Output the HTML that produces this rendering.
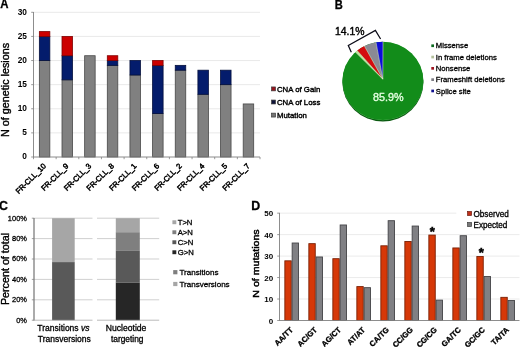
<!DOCTYPE html>
<html lang="en">
<head>
<meta charset="utf-8">
<title>Figure</title>
<style>
html,body{margin:0;padding:0;background:#fff;}
body{width:520px;height:347px;overflow:hidden;}
svg{display:block;filter:blur(0.35px);font-family:'Liberation Sans', Arial, Helvetica, sans-serif;}
text{font-family:'Liberation Sans', Arial, Helvetica, sans-serif;}
</style>
</head>
<body>
<svg width="520" height="347" viewBox="0 0 520 347">
<rect x="0" y="0" width="520" height="347" fill="#ffffff"/>
<line x1="33.50" y1="132.88" x2="260.00" y2="132.88" stroke="#e6e6e6" stroke-width="0.9" />
<line x1="33.50" y1="108.77" x2="260.00" y2="108.77" stroke="#e6e6e6" stroke-width="0.9" />
<line x1="33.50" y1="84.66" x2="260.00" y2="84.66" stroke="#e6e6e6" stroke-width="0.9" />
<line x1="33.50" y1="60.54" x2="260.00" y2="60.54" stroke="#e6e6e6" stroke-width="0.9" />
<line x1="33.50" y1="36.42" x2="260.00" y2="36.42" stroke="#e6e6e6" stroke-width="0.9" />
<line x1="33.50" y1="12.31" x2="260.00" y2="12.31" stroke="#e6e6e6" stroke-width="0.9" />
<rect x="39.35" y="60.54" width="10.50" height="96.46" fill="#808080" stroke="#484848" stroke-width="0.8" />
<rect x="39.35" y="36.42" width="10.50" height="24.12" fill="#041c6c" stroke="#04103c" stroke-width="0.8" />
<rect x="39.35" y="31.60" width="10.50" height="4.82" fill="#cc0000" stroke="#800000" stroke-width="0.8" />
<rect x="62.00" y="79.83" width="10.50" height="77.17" fill="#808080" stroke="#484848" stroke-width="0.8" />
<rect x="62.00" y="55.72" width="10.50" height="24.12" fill="#041c6c" stroke="#04103c" stroke-width="0.8" />
<rect x="62.00" y="36.42" width="10.50" height="19.29" fill="#cc0000" stroke="#800000" stroke-width="0.8" />
<rect x="84.65" y="55.72" width="10.50" height="101.28" fill="#808080" stroke="#484848" stroke-width="0.8" />
<rect x="107.30" y="65.36" width="10.50" height="91.64" fill="#808080" stroke="#484848" stroke-width="0.8" />
<rect x="107.30" y="60.54" width="10.50" height="4.82" fill="#041c6c" stroke="#04103c" stroke-width="0.8" />
<rect x="107.30" y="55.72" width="10.50" height="4.82" fill="#cc0000" stroke="#800000" stroke-width="0.8" />
<rect x="129.95" y="75.01" width="10.50" height="81.99" fill="#808080" stroke="#484848" stroke-width="0.8" />
<rect x="129.95" y="60.54" width="10.50" height="14.47" fill="#041c6c" stroke="#04103c" stroke-width="0.8" />
<rect x="152.60" y="113.59" width="10.50" height="43.41" fill="#808080" stroke="#484848" stroke-width="0.8" />
<rect x="152.60" y="65.36" width="10.50" height="48.23" fill="#041c6c" stroke="#04103c" stroke-width="0.8" />
<rect x="152.60" y="60.54" width="10.50" height="4.82" fill="#cc0000" stroke="#800000" stroke-width="0.8" />
<rect x="175.25" y="70.19" width="10.50" height="86.81" fill="#808080" stroke="#484848" stroke-width="0.8" />
<rect x="175.25" y="65.36" width="10.50" height="4.82" fill="#041c6c" stroke="#04103c" stroke-width="0.8" />
<rect x="197.90" y="94.30" width="10.50" height="62.70" fill="#808080" stroke="#484848" stroke-width="0.8" />
<rect x="197.90" y="70.19" width="10.50" height="24.12" fill="#041c6c" stroke="#04103c" stroke-width="0.8" />
<rect x="220.55" y="84.66" width="10.50" height="72.34" fill="#808080" stroke="#484848" stroke-width="0.8" />
<rect x="220.55" y="70.19" width="10.50" height="14.47" fill="#041c6c" stroke="#04103c" stroke-width="0.8" />
<rect x="243.20" y="103.95" width="10.50" height="53.05" fill="#808080" stroke="#484848" stroke-width="0.8" />
<line x1="33.50" y1="12.01" x2="33.50" y2="157.30" stroke="#808080" stroke-width="0.9" />
<line x1="33.20" y1="157.00" x2="260.00" y2="157.00" stroke="#808080" stroke-width="0.9" />
<line x1="31.20" y1="157.00" x2="33.50" y2="157.00" stroke="#808080" stroke-width="0.8" />
<text x="26.90" y="159.45" font-size="8.3" text-anchor="end" font-weight="bold" fill="#000" >0</text>
<line x1="31.20" y1="132.88" x2="33.50" y2="132.88" stroke="#808080" stroke-width="0.8" />
<text x="26.90" y="135.33" font-size="8.3" text-anchor="end" font-weight="bold" fill="#000" >5</text>
<line x1="31.20" y1="108.77" x2="33.50" y2="108.77" stroke="#808080" stroke-width="0.8" />
<text x="26.90" y="111.22" font-size="8.3" text-anchor="end" font-weight="bold" fill="#000" >10</text>
<line x1="31.20" y1="84.66" x2="33.50" y2="84.66" stroke="#808080" stroke-width="0.8" />
<text x="26.90" y="87.11" font-size="8.3" text-anchor="end" font-weight="bold" fill="#000" >15</text>
<line x1="31.20" y1="60.54" x2="33.50" y2="60.54" stroke="#808080" stroke-width="0.8" />
<text x="26.90" y="62.99" font-size="8.3" text-anchor="end" font-weight="bold" fill="#000" >20</text>
<line x1="31.20" y1="36.42" x2="33.50" y2="36.42" stroke="#808080" stroke-width="0.8" />
<text x="26.90" y="38.87" font-size="8.3" text-anchor="end" font-weight="bold" fill="#000" >25</text>
<line x1="31.20" y1="12.31" x2="33.50" y2="12.31" stroke="#808080" stroke-width="0.8" />
<text x="26.90" y="14.76" font-size="8.3" text-anchor="end" font-weight="bold" fill="#000" >30</text>
<line x1="33.50" y1="157.00" x2="33.50" y2="159.20" stroke="#808080" stroke-width="0.8" />
<line x1="56.15" y1="157.00" x2="56.15" y2="159.20" stroke="#808080" stroke-width="0.8" />
<line x1="78.80" y1="157.00" x2="78.80" y2="159.20" stroke="#808080" stroke-width="0.8" />
<line x1="101.45" y1="157.00" x2="101.45" y2="159.20" stroke="#808080" stroke-width="0.8" />
<line x1="124.10" y1="157.00" x2="124.10" y2="159.20" stroke="#808080" stroke-width="0.8" />
<line x1="146.75" y1="157.00" x2="146.75" y2="159.20" stroke="#808080" stroke-width="0.8" />
<line x1="169.40" y1="157.00" x2="169.40" y2="159.20" stroke="#808080" stroke-width="0.8" />
<line x1="192.05" y1="157.00" x2="192.05" y2="159.20" stroke="#808080" stroke-width="0.8" />
<line x1="214.70" y1="157.00" x2="214.70" y2="159.20" stroke="#808080" stroke-width="0.8" />
<line x1="237.35" y1="157.00" x2="237.35" y2="159.20" stroke="#808080" stroke-width="0.8" />
<line x1="260.00" y1="157.00" x2="260.00" y2="159.20" stroke="#808080" stroke-width="0.8" />
<text x="0" y="0" transform="translate(46.43 166.60) rotate(-45) scale(1 1)" font-size="7.6" text-anchor="end" font-weight="normal" fill="#000" stroke="#000" stroke-width="0.5">FR-CLL_10</text>
<text x="0" y="0" transform="translate(69.07 166.60) rotate(-45) scale(1 1)" font-size="7.6" text-anchor="end" font-weight="normal" fill="#000" stroke="#000" stroke-width="0.5">FR-CLL_9</text>
<text x="0" y="0" transform="translate(91.72 166.60) rotate(-45) scale(1 1)" font-size="7.6" text-anchor="end" font-weight="normal" fill="#000" stroke="#000" stroke-width="0.5">FR-CLL_3</text>
<text x="0" y="0" transform="translate(114.37 166.60) rotate(-45) scale(1 1)" font-size="7.6" text-anchor="end" font-weight="normal" fill="#000" stroke="#000" stroke-width="0.5">FR-CLL_8</text>
<text x="0" y="0" transform="translate(137.02 166.60) rotate(-45) scale(1 1)" font-size="7.6" text-anchor="end" font-weight="normal" fill="#000" stroke="#000" stroke-width="0.5">FR-CLL_1</text>
<text x="0" y="0" transform="translate(159.67 166.60) rotate(-45) scale(1 1)" font-size="7.6" text-anchor="end" font-weight="normal" fill="#000" stroke="#000" stroke-width="0.5">FR-CLL_6</text>
<text x="0" y="0" transform="translate(182.32 166.60) rotate(-45) scale(1 1)" font-size="7.6" text-anchor="end" font-weight="normal" fill="#000" stroke="#000" stroke-width="0.5">FR-CLL_2</text>
<text x="0" y="0" transform="translate(204.97 166.60) rotate(-45) scale(1 1)" font-size="7.6" text-anchor="end" font-weight="normal" fill="#000" stroke="#000" stroke-width="0.5">FR-CLL_4</text>
<text x="0" y="0" transform="translate(227.62 166.60) rotate(-45) scale(1 1)" font-size="7.6" text-anchor="end" font-weight="normal" fill="#000" stroke="#000" stroke-width="0.5">FR-CLL_5</text>
<text x="0" y="0" transform="translate(250.27 166.60) rotate(-45) scale(1 1)" font-size="7.6" text-anchor="end" font-weight="normal" fill="#000" stroke="#000" stroke-width="0.5">FR-CLL_7</text>
<text x="0" y="0" transform="translate(8.70 89.90) rotate(-90) scale(1 0.94)" font-size="10.8" text-anchor="middle" font-weight="normal" fill="#000" stroke="#000" stroke-width="0.4">N of genetic lesions</text>
<text x="0" y="0" transform="translate(0.20 8.25) rotate(0) scale(0.92 1)" font-size="12.4" text-anchor="start" font-weight="bold" fill="#000" stroke="#000" stroke-width="0.3">A</text>
<rect x="271.60" y="86.95" width="3.90" height="3.90" fill="#98141e" stroke="#3a3a3a" stroke-width="0.7" />
<text x="0" y="0" transform="translate(277.00 91.75) rotate(0) scale(0.963 1)" font-size="8.1" text-anchor="start" font-weight="normal" fill="#000" stroke="#000" stroke-width="0.4">CNA of Gain</text>
<rect x="271.60" y="100.05" width="3.90" height="3.90" fill="#10143a" stroke="#3a3a3a" stroke-width="0.7" />
<text x="0" y="0" transform="translate(277.00 104.85) rotate(0) scale(0.963 1)" font-size="8.1" text-anchor="start" font-weight="normal" fill="#000" stroke="#000" stroke-width="0.4">CNA of Loss</text>
<rect x="271.60" y="113.15" width="3.90" height="3.90" fill="#747474" stroke="#3a3a3a" stroke-width="0.7" />
<text x="0" y="0" transform="translate(277.00 117.95) rotate(0) scale(0.963 1)" font-size="8.1" text-anchor="start" font-weight="normal" fill="#000" stroke="#000" stroke-width="0.4">Mutation</text>
<text x="0" y="0" transform="translate(334.70 9.10) rotate(0) scale(0.9 1)" font-size="12.4" text-anchor="start" font-weight="bold" fill="#000" stroke="#000" stroke-width="0.3">B</text>
<ellipse cx="382.9" cy="82.39999999999999" rx="40.5" ry="39.1" fill="#0a5a10"/>
<ellipse cx="382.9" cy="81.14999999999999" rx="40.3" ry="39.1" fill="#5cc060"/>
<ellipse cx="382.9" cy="80.8" rx="40.5" ry="39.1" fill="#128c1a"/>
<path d="M382.80 79.10 L355.40 52.10 A40.5 39.1 0 0 1 357.20 50.58 Z" fill="#c4e6a0"/>
<path d="M382.80 79.10 L357.20 50.58 A40.5 39.1 0 0 1 364.40 46.02 Z" fill="#d40c10"/>
<path d="M382.80 79.10 L364.40 46.02 A40.5 39.1 0 0 1 376.00 42.27 Z" fill="#8a8a94"/>
<path d="M382.80 79.10 L376.00 42.27 A40.5 39.1 0 0 1 383.00 41.70 Z" fill="#0c0cd8"/>
<line x1="382.80" y1="79.10" x2="355.40" y2="52.10" stroke="#f0f0d8" stroke-width="0.6" stroke-opacity="0.85"/>
<line x1="382.80" y1="79.10" x2="357.20" y2="50.58" stroke="#f0f0d8" stroke-width="0.6" stroke-opacity="0.85"/>
<line x1="382.80" y1="79.10" x2="364.40" y2="46.02" stroke="#f0f0d8" stroke-width="0.6" stroke-opacity="0.85"/>
<line x1="382.80" y1="79.10" x2="376.00" y2="42.27" stroke="#f0f0d8" stroke-width="0.6" stroke-opacity="0.85"/>
<line x1="382.80" y1="79.10" x2="383.00" y2="41.70" stroke="#f0f0d8" stroke-width="0.6" stroke-opacity="0.85"/>
<path d="M351.3 52.2 L348.3 45.4 L375.4 30.4 L380.6 39.0" fill="none" stroke="#0c0c18" stroke-width="1.25"/>
<text x="335.00" y="35.20" font-size="10.4" text-anchor="start" font-weight="normal" fill="#000" stroke="#000" stroke-width="0.4">14.1%</text>
<text x="388.20" y="101.00" font-size="10.8" text-anchor="middle" font-weight="normal" fill="#e4ffe0" stroke="#e4ffe0" stroke-width="0.35">85.9%</text>
<rect x="431.30" y="44.40" width="2.70" height="2.70" fill="#0a6a1e" />
<text x="435.80" y="48.30" font-size="7.68" text-anchor="start" font-weight="normal" fill="#000" stroke="#000" stroke-width="0.3">Missense</text>
<rect x="431.30" y="55.70" width="2.70" height="2.70" fill="#b4c09c" />
<text x="435.80" y="59.60" font-size="7.68" text-anchor="start" font-weight="normal" fill="#000" stroke="#000" stroke-width="0.3">In frame deletions</text>
<rect x="431.30" y="67.00" width="2.70" height="2.70" fill="#a01420" />
<text x="435.80" y="70.90" font-size="7.68" text-anchor="start" font-weight="normal" fill="#000" stroke="#000" stroke-width="0.3">Nonsense</text>
<rect x="431.30" y="78.30" width="2.70" height="2.70" fill="#7c7c84" />
<text x="435.80" y="82.20" font-size="7.68" text-anchor="start" font-weight="normal" fill="#000" stroke="#000" stroke-width="0.3">Frameshift deletions</text>
<rect x="431.30" y="89.60" width="2.70" height="2.70" fill="#101090" />
<text x="435.80" y="93.50" font-size="7.68" text-anchor="start" font-weight="normal" fill="#000" stroke="#000" stroke-width="0.3">Splice site</text>
<text x="-0.90" y="210.10" font-size="12.4" text-anchor="start" font-weight="bold" fill="#000" stroke="#000" stroke-width="0.3">C</text>
<line x1="31.80" y1="320.20" x2="34.00" y2="320.20" stroke="#8a8a8a" stroke-width="0.8" />
<text x="0" y="0" transform="translate(26.90 322.55) rotate(0) scale(0.92 1)" font-size="8.1" text-anchor="end" font-weight="normal" fill="#000" stroke="#000" stroke-width="0.3">0%</text>
<line x1="34.00" y1="299.80" x2="92.50" y2="299.80" stroke="#bcbcbc" stroke-width="0.7" />
<line x1="97.00" y1="299.80" x2="159.20" y2="299.80" stroke="#bcbcbc" stroke-width="0.7" />
<line x1="31.80" y1="299.80" x2="34.00" y2="299.80" stroke="#8a8a8a" stroke-width="0.8" />
<text x="0" y="0" transform="translate(26.90 302.15) rotate(0) scale(0.92 1)" font-size="8.1" text-anchor="end" font-weight="normal" fill="#000" stroke="#000" stroke-width="0.3">20%</text>
<line x1="34.00" y1="279.40" x2="92.50" y2="279.40" stroke="#bcbcbc" stroke-width="0.7" />
<line x1="97.00" y1="279.40" x2="159.20" y2="279.40" stroke="#bcbcbc" stroke-width="0.7" />
<line x1="31.80" y1="279.40" x2="34.00" y2="279.40" stroke="#8a8a8a" stroke-width="0.8" />
<text x="0" y="0" transform="translate(26.90 281.75) rotate(0) scale(0.92 1)" font-size="8.1" text-anchor="end" font-weight="normal" fill="#000" stroke="#000" stroke-width="0.3">40%</text>
<line x1="34.00" y1="259.00" x2="92.50" y2="259.00" stroke="#bcbcbc" stroke-width="0.7" />
<line x1="97.00" y1="259.00" x2="159.20" y2="259.00" stroke="#bcbcbc" stroke-width="0.7" />
<line x1="31.80" y1="259.00" x2="34.00" y2="259.00" stroke="#8a8a8a" stroke-width="0.8" />
<text x="0" y="0" transform="translate(26.90 261.35) rotate(0) scale(0.92 1)" font-size="8.1" text-anchor="end" font-weight="normal" fill="#000" stroke="#000" stroke-width="0.3">60%</text>
<line x1="34.00" y1="238.60" x2="92.50" y2="238.60" stroke="#bcbcbc" stroke-width="0.7" />
<line x1="97.00" y1="238.60" x2="159.20" y2="238.60" stroke="#bcbcbc" stroke-width="0.7" />
<line x1="31.80" y1="238.60" x2="34.00" y2="238.60" stroke="#8a8a8a" stroke-width="0.8" />
<text x="0" y="0" transform="translate(26.90 240.95) rotate(0) scale(0.92 1)" font-size="8.1" text-anchor="end" font-weight="normal" fill="#000" stroke="#000" stroke-width="0.3">80%</text>
<line x1="34.00" y1="218.20" x2="92.50" y2="218.20" stroke="#bcbcbc" stroke-width="0.7" />
<line x1="97.00" y1="218.20" x2="159.20" y2="218.20" stroke="#bcbcbc" stroke-width="0.7" />
<line x1="31.80" y1="218.20" x2="34.00" y2="218.20" stroke="#8a8a8a" stroke-width="0.8" />
<text x="0" y="0" transform="translate(26.90 220.55) rotate(0) scale(0.92 1)" font-size="8.1" text-anchor="end" font-weight="normal" fill="#000" stroke="#000" stroke-width="0.3">100%</text>
<rect x="52.10" y="262.06" width="22.60" height="58.19" fill="#595959" />
<rect x="52.10" y="218.20" width="22.60" height="43.91" fill="#a6a6a6" />
<rect x="115.80" y="282.46" width="24.00" height="37.79" fill="#262626" />
<rect x="115.80" y="250.84" width="24.00" height="31.67" fill="#595959" />
<rect x="115.80" y="232.17" width="24.00" height="18.72" fill="#7f7f7f" />
<rect x="115.80" y="218.20" width="24.00" height="14.02" fill="#a6a6a6" />
<line x1="34.00" y1="217.90" x2="34.00" y2="320.50" stroke="#7e7e7e" stroke-width="1.3" />
<line x1="34.00" y1="320.20" x2="92.50" y2="320.20" stroke="#9c9c9c" stroke-width="0.7" />
<line x1="97.00" y1="320.20" x2="159.20" y2="320.20" stroke="#9c9c9c" stroke-width="0.7" />
<text x="0" y="0" transform="translate(8.80 269.00) rotate(-90) scale(1 0.94)" font-size="10.75" text-anchor="middle" font-weight="normal" fill="#000" stroke="#000" stroke-width="0.4">Percent of total</text>
<text x="63.4" y="331.4" font-size="8.5" text-anchor="middle" stroke="#000" stroke-width="0.3">Transitions <tspan font-style="italic">vs</tspan></text>
<text x="64.30" y="341.50" font-size="8.5" text-anchor="middle" font-weight="normal" fill="#000" stroke="#000" stroke-width="0.3">Transversions</text>
<text x="126.10" y="331.40" font-size="8.6" text-anchor="middle" font-weight="normal" fill="#000" stroke="#000" stroke-width="0.3">Nucleotide</text>
<text x="127.20" y="341.50" font-size="8.4" text-anchor="middle" font-weight="normal" fill="#000" stroke="#000" stroke-width="0.3">targeting</text>
<rect x="172.40" y="220.30" width="3.90" height="3.90" fill="#a6a6a6" />
<text x="177.70" y="225.00" font-size="7.7" text-anchor="start" font-weight="normal" fill="#000" stroke="#000" stroke-width="0.3">T&gt;N</text>
<rect x="172.40" y="230.30" width="3.90" height="3.90" fill="#7f7f7f" />
<text x="177.70" y="235.00" font-size="7.7" text-anchor="start" font-weight="normal" fill="#000" stroke="#000" stroke-width="0.3">A&gt;N</text>
<rect x="172.40" y="240.30" width="3.90" height="3.90" fill="#595959" />
<text x="177.70" y="245.00" font-size="7.7" text-anchor="start" font-weight="normal" fill="#000" stroke="#000" stroke-width="0.3">C&gt;N</text>
<rect x="172.40" y="250.30" width="3.90" height="3.90" fill="#262626" />
<text x="177.70" y="255.00" font-size="7.7" text-anchor="start" font-weight="normal" fill="#000" stroke="#000" stroke-width="0.3">G&gt;N</text>
<rect x="173.20" y="270.10" width="4.20" height="4.20" fill="#7f7f7f" />
<text x="179.40" y="275.10" font-size="8.05" text-anchor="start" font-weight="normal" fill="#000" stroke="#000" stroke-width="0.3">Transitions</text>
<rect x="173.20" y="281.90" width="4.20" height="4.20" fill="#a6a6a6" />
<text x="179.40" y="286.90" font-size="8.05" text-anchor="start" font-weight="normal" fill="#000" stroke="#000" stroke-width="0.3">Transversions</text>
<text x="251.20" y="210.10" font-size="12.4" text-anchor="start" font-weight="bold" fill="#000" stroke="#000" stroke-width="0.3">D</text>
<line x1="279.50" y1="299.03" x2="519.50" y2="299.03" stroke="#e6e6e6" stroke-width="0.8" />
<line x1="279.50" y1="277.56" x2="519.50" y2="277.56" stroke="#e6e6e6" stroke-width="0.8" />
<line x1="279.50" y1="256.09" x2="519.50" y2="256.09" stroke="#e6e6e6" stroke-width="0.8" />
<line x1="279.50" y1="234.62" x2="519.50" y2="234.62" stroke="#e6e6e6" stroke-width="0.8" />
<line x1="279.50" y1="213.15" x2="519.50" y2="213.15" stroke="#e6e6e6" stroke-width="0.8" />
<rect x="284.85" y="260.83" width="6.40" height="59.67" fill="#d63808" stroke="#7a2004" stroke-width="0.9" />
<rect x="292.15" y="243.01" width="6.40" height="77.49" fill="#808084" stroke="#444448" stroke-width="0.9" />
<rect x="308.85" y="243.66" width="6.40" height="76.84" fill="#d63808" stroke="#7a2004" stroke-width="0.9" />
<rect x="316.15" y="256.97" width="6.40" height="63.53" fill="#808084" stroke="#444448" stroke-width="0.9" />
<rect x="332.85" y="258.69" width="6.40" height="61.81" fill="#d63808" stroke="#7a2004" stroke-width="0.9" />
<rect x="340.15" y="224.98" width="6.40" height="95.52" fill="#808084" stroke="#444448" stroke-width="0.9" />
<rect x="356.85" y="286.60" width="6.40" height="33.90" fill="#d63808" stroke="#7a2004" stroke-width="0.9" />
<rect x="364.15" y="287.67" width="6.40" height="32.83" fill="#808084" stroke="#444448" stroke-width="0.9" />
<rect x="380.85" y="245.81" width="6.40" height="74.69" fill="#d63808" stroke="#7a2004" stroke-width="0.9" />
<rect x="388.15" y="220.69" width="6.40" height="99.81" fill="#808084" stroke="#444448" stroke-width="0.9" />
<rect x="404.85" y="241.51" width="6.40" height="78.99" fill="#d63808" stroke="#7a2004" stroke-width="0.9" />
<rect x="412.15" y="226.05" width="6.40" height="94.45" fill="#808084" stroke="#444448" stroke-width="0.9" />
<rect x="428.85" y="235.07" width="6.40" height="85.43" fill="#d63808" stroke="#7a2004" stroke-width="0.9" />
<rect x="436.15" y="300.12" width="6.40" height="20.38" fill="#808084" stroke="#444448" stroke-width="0.9" />
<rect x="452.85" y="247.95" width="6.40" height="72.55" fill="#d63808" stroke="#7a2004" stroke-width="0.9" />
<rect x="460.15" y="235.71" width="6.40" height="84.79" fill="#808084" stroke="#444448" stroke-width="0.9" />
<rect x="476.85" y="256.54" width="6.40" height="63.96" fill="#d63808" stroke="#7a2004" stroke-width="0.9" />
<rect x="484.15" y="276.51" width="6.40" height="43.99" fill="#808084" stroke="#444448" stroke-width="0.9" />
<rect x="500.85" y="297.33" width="6.40" height="23.17" fill="#d63808" stroke="#7a2004" stroke-width="0.9" />
<rect x="508.15" y="300.55" width="6.40" height="19.95" fill="#808084" stroke="#444448" stroke-width="0.9" />
<line x1="279.50" y1="212.85" x2="279.50" y2="320.80" stroke="#808080" stroke-width="0.9" />
<line x1="279.20" y1="320.50" x2="519.50" y2="320.50" stroke="#808080" stroke-width="0.9" />
<line x1="277.20" y1="320.50" x2="279.50" y2="320.50" stroke="#808080" stroke-width="0.8" />
<text x="273.10" y="323.50" font-size="8.0" text-anchor="end" font-weight="bold" fill="#000" >0</text>
<line x1="277.20" y1="299.03" x2="279.50" y2="299.03" stroke="#808080" stroke-width="0.8" />
<text x="273.10" y="302.03" font-size="8.0" text-anchor="end" font-weight="bold" fill="#000" >10</text>
<line x1="277.20" y1="277.56" x2="279.50" y2="277.56" stroke="#808080" stroke-width="0.8" />
<text x="273.10" y="280.56" font-size="8.0" text-anchor="end" font-weight="bold" fill="#000" >20</text>
<line x1="277.20" y1="256.09" x2="279.50" y2="256.09" stroke="#808080" stroke-width="0.8" />
<text x="273.10" y="259.09" font-size="8.0" text-anchor="end" font-weight="bold" fill="#000" >30</text>
<line x1="277.20" y1="234.62" x2="279.50" y2="234.62" stroke="#808080" stroke-width="0.8" />
<text x="273.10" y="237.62" font-size="8.0" text-anchor="end" font-weight="bold" fill="#000" >40</text>
<line x1="277.20" y1="213.15" x2="279.50" y2="213.15" stroke="#808080" stroke-width="0.8" />
<text x="273.10" y="216.15" font-size="8.0" text-anchor="end" font-weight="bold" fill="#000" >50</text>
<text x="0" y="0" transform="translate(293.50 330.30) rotate(-45) scale(1 1)" font-size="7.7" text-anchor="end" font-weight="bold" fill="#000" stroke="#000" stroke-width="0.3">AA/TT</text>
<text x="0" y="0" transform="translate(317.50 330.30) rotate(-45) scale(1 1)" font-size="7.7" text-anchor="end" font-weight="bold" fill="#000" stroke="#000" stroke-width="0.3">AC/GT</text>
<text x="0" y="0" transform="translate(341.50 330.30) rotate(-45) scale(1 1)" font-size="7.7" text-anchor="end" font-weight="bold" fill="#000" stroke="#000" stroke-width="0.3">AG/CT</text>
<text x="0" y="0" transform="translate(365.50 330.30) rotate(-45) scale(1 1)" font-size="7.7" text-anchor="end" font-weight="bold" fill="#000" stroke="#000" stroke-width="0.3">AT/AT</text>
<text x="0" y="0" transform="translate(389.50 330.30) rotate(-45) scale(1 1)" font-size="7.7" text-anchor="end" font-weight="bold" fill="#000" stroke="#000" stroke-width="0.3">CA/TG</text>
<text x="0" y="0" transform="translate(413.50 330.30) rotate(-45) scale(1 1)" font-size="7.7" text-anchor="end" font-weight="bold" fill="#000" stroke="#000" stroke-width="0.3">CC/GG</text>
<text x="0" y="0" transform="translate(437.50 330.30) rotate(-45) scale(1 1)" font-size="7.7" text-anchor="end" font-weight="bold" fill="#000" stroke="#000" stroke-width="0.3">CG/CG</text>
<text x="0" y="0" transform="translate(461.50 330.30) rotate(-45) scale(1 1)" font-size="7.7" text-anchor="end" font-weight="bold" fill="#000" stroke="#000" stroke-width="0.3">GA/TC</text>
<text x="0" y="0" transform="translate(485.50 330.30) rotate(-45) scale(1 1)" font-size="7.7" text-anchor="end" font-weight="bold" fill="#000" stroke="#000" stroke-width="0.3">GC/GC</text>
<text x="0" y="0" transform="translate(509.50 330.30) rotate(-45) scale(1 1)" font-size="7.7" text-anchor="end" font-weight="bold" fill="#000" stroke="#000" stroke-width="0.3">TA/TA</text>
<text x="0" y="0" transform="translate(259.20 263.50) rotate(-90) scale(1 0.92)" font-size="10.6" text-anchor="middle" font-weight="normal" fill="#000" stroke="#000" stroke-width="0.5">N of mutations</text>
<rect x="456.30" y="206.50" width="64.00" height="24.50" fill="#fff" />
<rect x="467.60" y="211.50" width="4.00" height="4.00" fill="#c03018" stroke="#6a1a10" stroke-width="0.7" />
<text x="473.50" y="216.50" font-size="8.15" text-anchor="start" font-weight="normal" fill="#000" stroke="#000" stroke-width="0.3">Observed</text>
<rect x="467.60" y="222.50" width="4.00" height="4.00" fill="#787878" stroke="#3c3c3c" stroke-width="0.7" />
<text x="473.50" y="227.50" font-size="8.15" text-anchor="start" font-weight="normal" fill="#000" stroke="#000" stroke-width="0.3">Expected</text>
<text x="432.20" y="236.00" font-size="13" text-anchor="middle" font-weight="bold" fill="#000" stroke="#000" stroke-width="0.5">*</text>
<text x="481.20" y="257.30" font-size="13" text-anchor="middle" font-weight="bold" fill="#000" stroke="#000" stroke-width="0.5">*</text>
</svg>
</body>
</html>
